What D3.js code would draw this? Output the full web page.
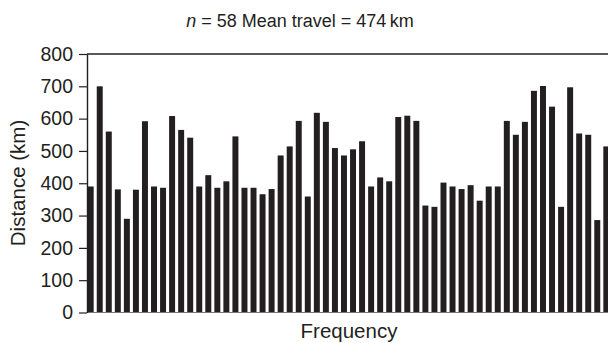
<!DOCTYPE html>
<html>
<head>
<meta charset="utf-8">
<script src="https://cdn.jsdelivr.net/npm/d3@7"></script>
<style>
  html, body { margin: 0; padding: 0; background: #fff; }
  svg { display: block; font-family: "Liberation Sans", Arial, Helvetica, sans-serif; }
</style>
</head>
<body>
<svg id="chart" width="608" height="343"></svg>
<script>
const categories = d3.range(1, 59);
const distances = [
  390, 700, 560, 381, 290, 380, 592, 390, 386, 608,
  565, 541, 390, 425, 386, 406, 545, 386, 386, 366,
  382, 486, 514, 593, 359, 618, 590, 509, 486, 505,
  530, 390, 418, 406, 605, 609, 593, 331, 327, 402,
  390, 382, 394, 346, 390, 390, 593, 550, 590, 686,
  701, 637, 327, 697, 554, 550, 286, 514
];
const yTicks = [0, 100, 200, 300, 400, 500, 600, 700, 800];
const titleText = "Mean travel = 474\u2009km";

const svg = d3.select("#chart");
const ink = "#231f20";
const mLeft = 87, mRight = 608, mTop = 54, mBottom = 312.5;

const x = d3.scaleBand().domain(categories).range([87.7, 609.3]).paddingInner(0.34).paddingOuter(0);
const y = d3.scaleLinear().domain([0, 800]).range([mBottom, mTop]);

// bars
svg.append("g").selectAll("rect").data(categories).join("rect")
  .attr("x", d => x(d))
  .attr("y", (d, i) => y(distances[i]))
  .attr("width", x.bandwidth())
  .attr("height", (d, i) => y(0) - y(distances[i]))
  .attr("fill", ink);

// baseline
svg.append("line").attr("x1", mLeft).attr("x2", mRight).attr("y1", mBottom).attr("y2", mBottom)
  .attr("stroke", "#777").attr("stroke-width", 1);

// top frame line
svg.append("line").attr("x1", mLeft).attr("x2", mRight).attr("y1", mTop).attr("y2", mTop)
  .attr("stroke", ink).attr("stroke-width", 1.4);

// y axis
const yAxis = svg.append("g").attr("transform", `translate(${mLeft},0)`)
  .call(d3.axisLeft(y).tickValues(yTicks).tickSize(8).tickSizeOuter(0).tickPadding(6));
yAxis.select(".domain").attr("stroke", ink).attr("stroke-width", 1.4);
yAxis.selectAll(".tick line").attr("stroke", ink).attr("stroke-width", 1.2);
yAxis.selectAll(".tick text").attr("fill", ink).style("font-size", "19.5px")
  .style("font-family", '"Liberation Sans", Arial, sans-serif');

// title
const t = svg.append("text").attr("x", 300).attr("y", 27).attr("text-anchor", "middle")
  .attr("fill", ink).style("font-size", "18px");
t.append("tspan").style("font-style", "italic").text("n");
t.append("tspan").text(" = 58 " + titleText);

// x label
svg.append("text").attr("x", 349).attr("y", 338).attr("text-anchor", "middle")
  .attr("fill", ink).style("font-size", "20.5px").text("Frequency");

// y label
svg.append("text").attr("transform", "translate(25,183) rotate(-90)").attr("text-anchor", "middle")
  .attr("fill", ink).style("font-size", "20.5px").text("Distance (km)");
</script>
</body>
</html>
